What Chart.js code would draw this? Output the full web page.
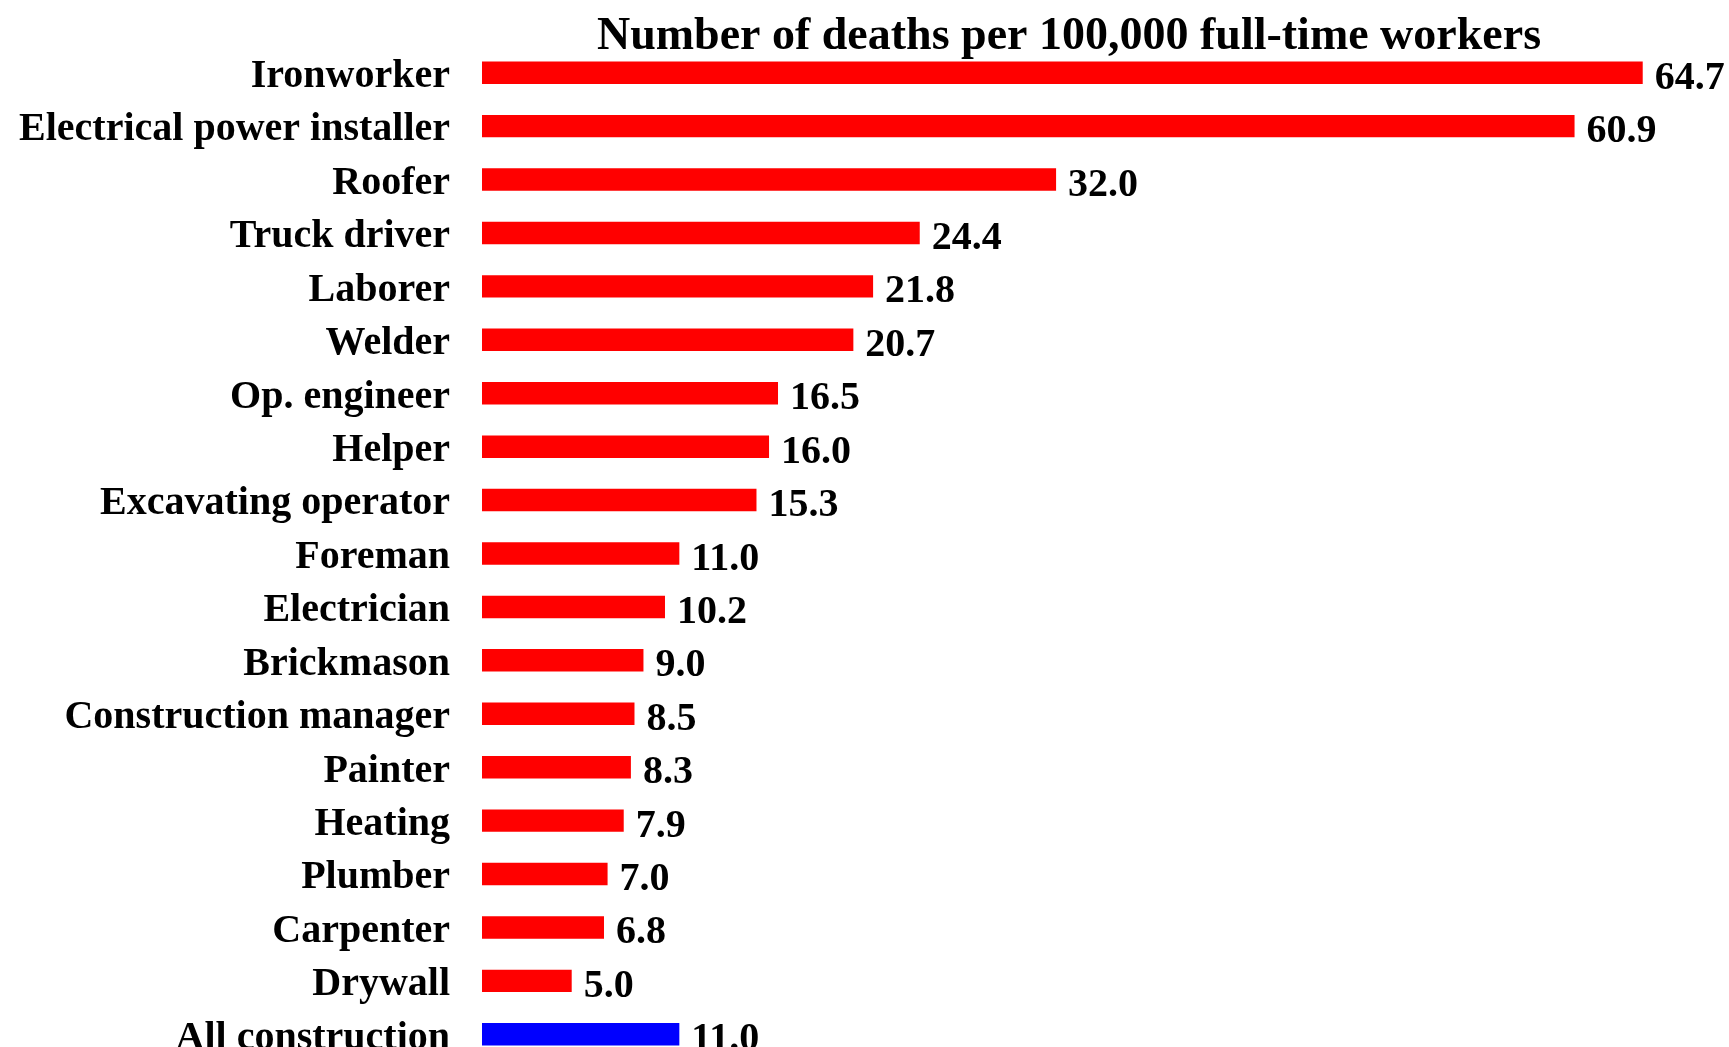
<!DOCTYPE html>
<html>
<head>
<meta charset="utf-8">
<script src="https://cdn.jsdelivr.net/npm/chart.js@4/dist/chart.umd.min.js"></script>
<style>
  html, body { margin: 0; padding: 0; background: #fff; overflow: hidden; }
  canvas { display: block; }
</style>
</head>
<body>
<canvas id="c" width="1729" height="1061" style="width:1729px;height:1061px"></canvas>
<script>
const categories = ["Ironworker", "Electrical power installer", "Roofer", "Truck driver", "Laborer", "Welder", "Op. engineer", "Helper", "Excavating operator", "Foreman", "Electrician", "Brickmason", "Construction manager", "Painter", "Heating", "Plumber", "Carpenter", "Drywall", "All construction"];
const deathRates = [64.7, 60.9, 32.0, 24.4, 21.8, 20.7, 16.5, 16.0, 15.3, 11.0, 10.2, 9.0, 8.5, 8.3, 7.9, 7.0, 6.8, 5.0, 11.0];
const barColors = categories.map(c => c === "All construction" ? "#0000FF" : "#FF0000");
const titleText = "Number of deaths per 100,000 full-time workers";

const FONT = "'Liberation Serif', 'Times New Roman', serif";

const valueLabels = {
  id: 'valueLabels',
  beforeDraw(chart) {
    // nudge category labels slightly down to sit like the reference
    const items = chart.scales.y.getLabelItems();
    items.forEach(it => {
      if (!it._nudged) { it.options.translation[1] += 4; it._nudged = true; }
    });
  },
  afterDatasetsDraw(chart) {
    const ctx = chart.ctx;
    const meta = chart.getDatasetMeta(0);
    ctx.save();
    ctx.font = "bold 40px " + FONT;
    ctx.fillStyle = "#000";
    ctx.textAlign = "left";
    ctx.textBaseline = "alphabetic";
    meta.data.forEach((bar, i) => {
      ctx.fillText(deathRates[i].toFixed(1), bar.x + 12, bar.y + 16);
    });
    ctx.restore();
  }
};

new Chart(document.getElementById('c'), {
  type: 'bar',
  data: {
    labels: categories,
    datasets: [{
      data: deathRates,
      backgroundColor: barColors,
      borderWidth: 0,
      categoryPercentage: 1,
      barPercentage: 0.42
    }]
  },
  options: {
    indexAxis: 'y',
    responsive: false,
    animation: false,
    devicePixelRatio: 1,
    layout: { padding: { left: 0, right: 73, top: 0, bottom: 0 } },
    plugins: { legend: { display: false }, tooltip: { enabled: false } },
    scales: {
      x: {
        position: 'top',
        min: 0,
        max: 65.44,
        grid: { display: false, drawTicks: false },
        border: { display: false },
        ticks: { display: false },
        title: {
          display: true,
          text: titleText,
          color: '#000',
          font: { family: FONT, size: 46, weight: 'bold', lineHeight: 1 },
          padding: { top: 14.5, bottom: 0 }
        },
        afterFit(scale) {
          scale.height = 46;
          scale.paddingLeft = 0; scale.paddingRight = 0;
        }
      },
      y: {
        grid: { display: false, drawTicks: false },
        border: { display: false },
        ticks: {
          color: '#000',
          padding: 32,
          font: { family: FONT, size: 40, weight: 'bold' },
          autoSkip: false
        },
        afterFit(scale) {
          scale.width = 482;
          scale.paddingTop = 0; scale.paddingBottom = 0;
        }
      }
    }
  },
  plugins: [valueLabels]
});
</script>
</body>
</html>
